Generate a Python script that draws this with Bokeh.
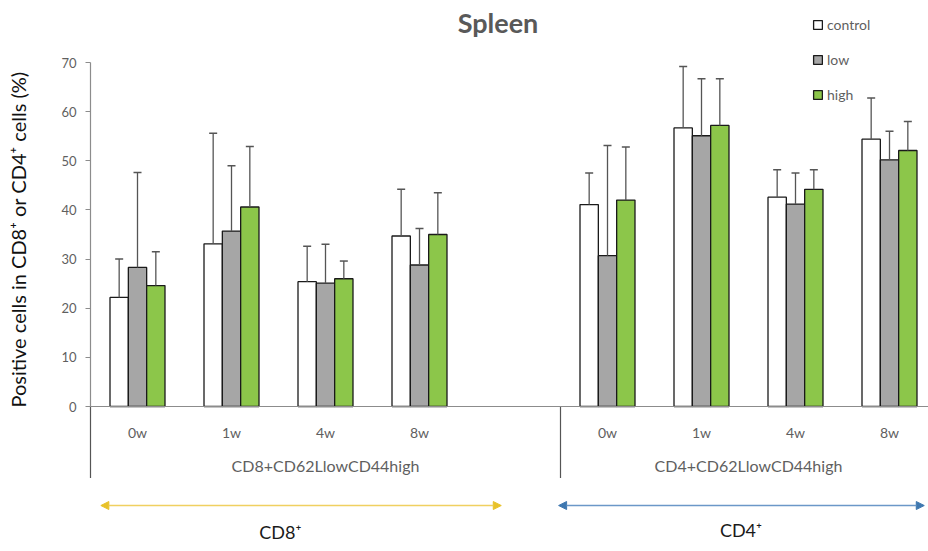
import math
from bokeh.plotting import figure
from bokeh.layouts import column
from bokeh.models import (Range1d, FixedTicker, Span, Arrow, NormalHead,
                          Legend, LegendItem, ColumnDataSource)
from bokeh.core.properties import value
from bokeh.embed import file_html
from bokeh.resources import INLINE

# ---------------- data ----------------
weeks = ["0w", "1w", "4w", "8w"]
panels = ["CD8+CD62LlowCD44high", "CD4+CD62LlowCD44high"]
cell_types = ["CD8\u207a", "CD4\u207a"]
series = ["control", "low", "high"]

cd8_control = [22.2, 33.1, 25.4, 34.7]
cd8_control_sd = [7.8, 22.5, 7.2, 9.5]
cd8_low = [28.3, 35.7, 25.1, 28.8]
cd8_low_sd = [19.3, 13.3, 7.9, 7.4]
cd8_high = [24.6, 40.6, 26.0, 35.0]
cd8_high_sd = [6.9, 12.3, 3.6, 8.5]

cd4_control = [41.1, 56.7, 42.6, 54.4]
cd4_control_sd = [6.4, 12.5, 5.6, 8.4]
cd4_low = [30.7, 55.1, 41.2, 50.2]
cd4_low_sd = [22.4, 11.6, 6.3, 5.8]
cd4_high = [42.0, 57.2, 44.2, 52.1]
cd4_high_sd = [10.8, 9.5, 4.0, 5.9]

y_ticks = [0, 10, 20, 30, 40, 50, 60, 70]
y_label = "Positive cells in CD8\u207a or CD4\u207a cells (%)"
title = "Spleen"

# ---------------- styling ----------------
FONT = "Lato"
fills = {"control": "#ffffff", "low": "#a6a6a6", "high": "#8cc64a"}
TXT_GRAY = "#5f5f5f"

values = {
    "control": (cd8_control + cd4_control, cd8_control_sd + cd4_control_sd),
    "low": (cd8_low + cd4_low, cd8_low_sd + cd4_low_sd),
    "high": (cd8_high + cd4_high, cd8_high_sd + cd4_high_sd),
}

slots_per_panel = [len(weeks) + 1, len(weeks)]   # CD8 panel has an empty trailing slot
slot_x = []
for pi in range(len(panels)):
    base = sum(slots_per_panel[:pi])
    for wi in range(len(weeks)):
        slot_x.append(base + wi)
divider_x = slots_per_panel[0] - 0.5

bar_w = 0.195
offsets = {"control": -bar_w, "low": 0.0, "high": bar_w}

PX_X = 94.0      # px per slot
PX_Y = 4.914     # px per % unit
ZERO_PX = 406
SPLIT_PX = 478
H = 551

x_start = -0.5 - 2 / PX_X
xr = Range1d(x_start, x_start + 840 / PX_X)

# ---------------- top figure ----------------
p = figure(width=928, height=SPLIT_PX, output_backend="svg", toolbar_location=None,
           x_range=xr, y_range=Range1d(-(SPLIT_PX - ZERO_PX) / PX_Y, ZERO_PX / PX_Y),
           min_border_left=88, min_border_right=0, min_border_top=0, min_border_bottom=0,
           x_axis_location=None, y_axis_location="left")
p.outline_line_color = None
p.grid.visible = False

ax = p.yaxis[0]
ax.ticker = FixedTicker(ticks=y_ticks)
ax.axis_line_color = None
ax.major_tick_line_color = "#8c8c8c"
ax.major_tick_in = 2
ax.major_tick_out = 3
ax.minor_tick_line_color = None
ax.major_label_text_font = FONT
ax.major_label_text_font_size = "13px"
ax.major_label_text_color = TXT_GRAY
ax.major_label_standoff = 9
ax.axis_label = y_label
ax.axis_label_text_font = FONT
ax.axis_label_text_font_size = "20px"
ax.axis_label_text_font_style = "normal"
ax.axis_label_text_color = "#111111"
ax.axis_label_standoff = 28

p.add_layout(Span(location=0, dimension="width", line_color="#8c8c8c", line_width=1.2))
p.segment(x0=[-0.5], y0=[y_ticks[-1]], x1=[-0.5], y1=[0], line_color="#8c8c8c", line_width=1.2)
p.segment(x0=[-0.5, divider_x], y0=[0, 0], x1=[-0.5, divider_x],
          y1=[-20, -20], line_color="#555555", line_width=1.2)

renderers = {}
for s in series:
    vals, sds = values[s]
    xs = [x + offsets[s] for x in slot_x]
    src = ColumnDataSource(dict(x=xs, top=vals, etop=[v + d for v, d in zip(vals, sds)]))
    renderers[s] = p.vbar(x="x", top="top", bottom=0, width=bar_w, source=src,
                          fill_color=fills[s], line_color="#1a1a1a", line_width=1.3)
    p.segment(x0="x", y0="top", x1="x", y1="etop", source=src, line_color="#555555", line_width=1.3)
    p.scatter(x="x", y="etop", source=src, marker="dash", size=8, line_color="#555555", line_width=1.5)

p.text(x=slot_x, y=[-5.3] * len(slot_x), text=weeks * len(panels), text_font=value(FONT),
       text_font_size="14px", text_color=TXT_GRAY, text_align="center", text_baseline="middle")

grp_x = []
for pi in range(len(panels)):
    base = sum(slots_per_panel[:pi])
    grp_x.append(base - 0.5 + slots_per_panel[pi] / 2)
p.text(x=grp_x, y=[-12.0, -12.0], text=panels, text_font=value(FONT), text_font_size="16px",
       text_color=TXT_GRAY, text_align="center", text_baseline="middle")

p.text(x=[3.835], y=[78.1], text=[title], text_font=value(FONT), text_font_size="27px",
       text_font_style="bold", text_color="#595959", text_align="center", text_baseline="middle")

legend = Legend(items=[LegendItem(label=s, renderers=[renderers[s]]) for s in series],
                location=(724, SPLIT_PX - 105), orientation="vertical", glyph_width=11, glyph_height=11,
                label_height=21, spacing=14, padding=0, margin=0, label_standoff=4,
                label_text_font=FONT, label_text_font_size="14px", label_text_color=TXT_GRAY,
                border_line_color=None, background_fill_alpha=0)
p.add_layout(legend)

# ---------------- bottom figure ----------------
q = figure(width=928, height=H - SPLIT_PX, output_backend="svg", toolbar_location=None,
           x_range=xr,
           y_range=Range1d(-(H - ZERO_PX) / PX_Y, -(SPLIT_PX - ZERO_PX) / PX_Y),
           min_border_left=88, min_border_right=0, min_border_top=0, min_border_bottom=0,
           x_axis_location=None, y_axis_location=None)
q.outline_line_color = None
q.grid.visible = False

yl = -20.15
q.add_layout(Arrow(start=NormalHead(size=8, fill_color="#e8c22a", line_color="#e8c22a"),
                   end=NormalHead(size=8, fill_color="#e8c22a", line_color="#e8c22a"),
                   x_start=-0.39, y_start=yl, x_end=3.87, y_end=yl,
                   line_color="#f0d060", line_width=1.5))
q.add_layout(Arrow(start=NormalHead(size=8, fill_color="#3f78b0", line_color="#3f78b0"),
                   end=NormalHead(size=8, fill_color="#3f78b0", line_color="#3f78b0"),
                   x_start=4.48, y_start=yl, x_end=8.37, y_end=yl,
                   line_color="#6b98c8", line_width=1.5))

q.text(x=[1.52, 6.42], y=[-25.6, -25.2], text=cell_types, text_font=value(FONT),
       text_font_size="18px", text_color="#1a1a1a", text_align="center", text_baseline="middle")

layout = column(p, q, spacing=0)
open("out.html", "w").write(file_html(layout, INLINE))
